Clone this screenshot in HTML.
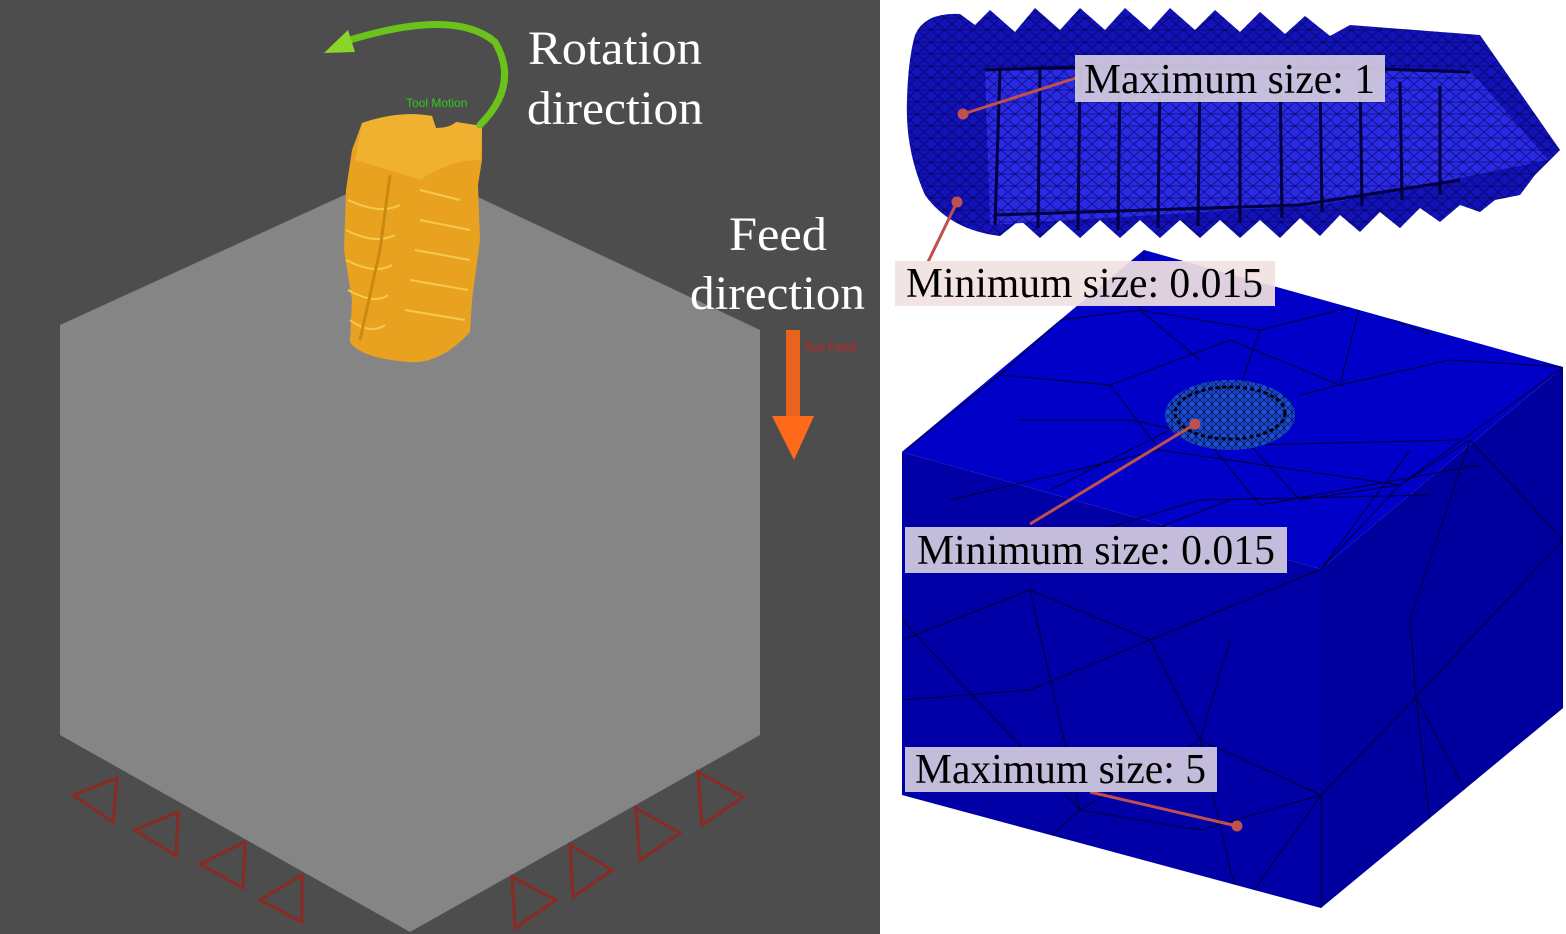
<!DOCTYPE html>
<html><head><meta charset="utf-8"><style>
html,body{margin:0;padding:0;width:1566px;height:934px;overflow:hidden;background:#fff}
svg{display:block}
</style></head><body>
<svg width="1566" height="934" viewBox="0 0 1566 934" xmlns="http://www.w3.org/2000/svg">
<defs>
<pattern id="mesh" width="14" height="12" patternUnits="userSpaceOnUse">
<path d="M0,0 L14,12 M14,0 L0,12 M0,6 L14,6" stroke="#000040" stroke-width="0.8" fill="none"/>
</pattern>
<pattern id="mesh2" width="8" height="8" patternUnits="userSpaceOnUse">
<path d="M0,0 L8,8 M8,0 L0,8 M4,0 L4,8" stroke="#000040" stroke-width="0.6" fill="none"/>
</pattern>
<clipPath id="boxclip">
<polygon points="902,452 1144,250 1563,367 1563,708 1321,908 902,795"/>
</clipPath>
</defs>
<!-- Left panel -->
<rect x="0" y="0" width="880" height="934" fill="#4d4d4d"/>
<polygon points="410,165 760,330 760,735 410,932 60,735 60,325" fill="#858585"/>
<g fill="none" stroke="#8b2a22" stroke-width="3">
<polygon points="73,795 117,778 113,822"/>
<polygon points="135,830 178,812 176,856"/>
<polygon points="200,864 245,842 243,888"/>
<polygon points="260,900 302,875 302,922"/>
<polygon points="512,877 556,900 515,928"/>
<polygon points="570,845 612,870 573,897"/>
<polygon points="636,808 680,833 640,860"/>
<polygon points="698,772 743,797 702,825"/>
</g>
<!-- tool -->
<path d="M362,123 Q400,110 432,116 L436,128 Q450,128 456,122 L482,126 L482,160 L478,185 L480,240 L472,300 L470,332 Q440,365 408,362 Q360,358 350,342 L352,300 L344,250 L346,190 L352,150 Z" fill="#e8a21f"/>
<path d="M362,123 Q400,110 432,116 L436,128 Q450,128 456,122 L482,126 L480,160 Q450,160 420,180 Q390,170 355,160 Z" fill="#f0b030"/>
<g stroke="#f7c850" stroke-width="2" fill="none">
<path d="M348,200 Q380,215 400,205 M346,230 Q375,245 395,235 M346,260 Q375,275 392,265 M348,290 Q375,305 388,295 M350,320 Q370,335 385,325"/>
<path d="M420,190 L460,200 M420,220 L470,230 M415,250 L470,260 M410,280 L468,290 M405,310 L465,320"/>
</g>
<path d="M390,175 L380,250 L360,340" stroke="#c88a10" stroke-width="3" fill="none"/>
<!-- green arrow -->
<path d="M480,125 Q520,85 495,42 Q455,8 350,40" fill="none" stroke="#6bc21a" stroke-width="7" stroke-linecap="round"/>
<polygon points="324,53 348,30 355,52" fill="#8bd42a"/>
<text x="406" y="107" font-family="Liberation Sans,sans-serif" font-size="12" fill="#2ecc1a">Tool Motion</text>
<!-- orange arrow -->
<rect x="786" y="330" width="14" height="100" fill="#e8641c"/>
<polygon points="772,416 814,416 794,460" fill="#ff6a1a"/>
<text x="803" y="351" font-family="Liberation Sans,sans-serif" font-size="12" fill="#d02020">Tool Feed</text>
<g font-family="Liberation Serif,serif" font-size="48" fill="#fff">
<text x="528" y="64" textLength="174" lengthAdjust="spacingAndGlyphs">Rotation</text>
<text x="527" y="124" textLength="176" lengthAdjust="spacingAndGlyphs">direction</text>
<text x="729" y="250" textLength="98" lengthAdjust="spacingAndGlyphs">Feed</text>
<text x="690" y="309" textLength="175" lengthAdjust="spacingAndGlyphs">direction</text>
</g>
<!-- Right panel: box -->
<polygon points="902,452 1144,250 1563,367 1321,569" fill="#0000c8"/>
<polygon points="902,452 1321,569 1321,908 902,795" fill="#0000a6"/>
<polygon points="1321,569 1563,367 1563,708 1321,908" fill="#00009e"/>
<g stroke="#000030" stroke-width="1" fill="none" clip-path="url(#boxclip)">
<path d="M902,452 L1000,375 L1110,385 L1230,340 L1340,385 L1450,360 L1563,367 M1144,250 L1140,310 L1200,360 M1000,375 L1060,320 L1140,310 L1260,330 L1360,305 L1430,335 M1020,420 L1130,420 L1250,445 L1460,440 M950,500 L1160,450 L1400,485 L1563,367 M1050,490 L1190,420 L1260,505 L1480,465 M1000,560 L1200,500 L1430,495 M1100,550 L1230,500 M1321,569 L1400,485 L1470,440 M1260,330 L1230,415 M1360,305 L1340,385 L1300,395 M1410,450 L1321,569 M1110,385 L1160,450 M1250,445 L1300,500 L1400,485"/>
<path d="M902,640 L1030,590 L1150,640 L1321,569 M1030,590 L1080,810 L1200,740 L1321,795 L1416,697 L1563,540 M902,620 L1080,810 L1030,855 L1000,905 M1150,640 L1200,740 L1240,910 M1416,697 L1430,825 L1563,708 M1321,795 L1321,908 M1416,697 L1410,620 L1470,440 M1200,740 L1230,640 M902,700 L1030,690 L1150,640 M1080,810 L1200,830 L1321,795 M1470,440 L1563,540 M1416,697 L1470,800 M1240,910 L1321,795"/>
</g>
<ellipse cx="1230" cy="415" rx="65" ry="35" fill="#1b4fd0"/>
<ellipse cx="1230" cy="415" rx="65" ry="35" fill="url(#mesh2)"/>
<ellipse cx="1230" cy="413" rx="55" ry="26" fill="none" stroke="#000" stroke-width="3" stroke-dasharray="4 3"/>
<!-- screw -->
<path d="M915,35 Q925,12 960,14 L975,25 L990,10 L1015,32 L1035,8 L1060,30 L1080,8 L1105,30 L1125,8 L1150,30 L1170,8 L1195,30 L1215,10 L1240,32 L1260,12 L1285,34 L1305,16 L1330,36 L1350,25 L1480,35 L1560,150 L1535,175 L1520,195 L1495,200 L1480,212 L1460,205 L1440,222 L1420,208 L1400,228 L1380,212 L1360,232 L1340,215 L1320,236 L1300,218 L1280,238 L1260,220 L1240,238 L1220,220 L1200,238 L1180,220 L1160,238 L1140,220 L1120,238 L1100,220 L1080,238 L1060,220 L1040,238 L1020,220 L1000,236 Q950,230 925,195 Q905,150 907,100 Q908,60 915,35 Z" fill="#1212b8"/>
<path d="M985,70 L1470,70 L1548,160 L1450,180 L1320,205 L990,225 Z" fill="#2a2ae6"/>
<path d="M915,35 Q925,12 960,14 L975,25 L990,10 L1015,32 L1035,8 L1060,30 L1080,8 L1105,30 L1125,8 L1150,30 L1170,8 L1195,30 L1215,10 L1240,32 L1260,12 L1285,34 L1305,16 L1330,36 L1350,25 L1480,35 L1560,150 L1535,175 L1520,195 L1495,200 L1480,212 L1460,205 L1440,222 L1420,208 L1400,228 L1380,212 L1360,232 L1340,215 L1320,236 L1300,218 L1280,238 L1260,220 L1240,238 L1220,220 L1200,238 L1180,220 L1160,238 L1140,220 L1120,238 L1100,220 L1080,238 L1060,220 L1040,238 L1020,220 L1000,236 Q950,230 925,195 Q905,150 907,100 Q908,60 915,35 Z" fill="url(#mesh)" opacity="0.7"/>
<g stroke="#000040" stroke-width="3" fill="none">
<path d="M1000,70 L995,225 M1040,70 L1038,228 M1080,70 L1078,230 M1120,70 L1118,230 M1160,70 L1158,228 M1200,70 L1198,226 M1240,70 L1240,222 M1280,72 L1282,218 M1320,74 L1322,212 M1360,78 L1362,206 M1400,82 L1402,200 M1440,86 L1440,195"/>
<path d="M985,70 Q1200,62 1470,72 M995,215 L1300,205 L1460,180"/>
</g>
<!-- labels -->
<g stroke="#c0504d" stroke-width="3" fill="#c0504d">
<line x1="963" y1="114" x2="1076" y2="78"/><circle cx="963" cy="114" r="4"/>
<line x1="957" y1="202" x2="928" y2="262"/><circle cx="957" cy="202" r="4"/>
<line x1="1195" y1="424" x2="1030" y2="524"/><circle cx="1195" cy="424" r="4"/>
<line x1="1090" y1="792" x2="1237" y2="826"/><circle cx="1237" cy="826" r="4"/>
</g>
<g font-family="Liberation Serif,serif" font-size="42" fill="#000">
<rect x="1075" y="55" width="310" height="47" fill="#d4cce0" opacity="0.92"/>
<text x="1084" y="93" textLength="291" lengthAdjust="spacingAndGlyphs">Maximum size: 1</text>
<rect x="895" y="261" width="380" height="45" fill="#f2e2e2" opacity="0.92"/>
<text x="906" y="297" textLength="357" lengthAdjust="spacingAndGlyphs">Minimum size: 0.015</text>
<rect x="905" y="527" width="382" height="46" fill="#cfc6dd" opacity="0.95"/>
<text x="917" y="564" textLength="358" lengthAdjust="spacingAndGlyphs">Minimum size: 0.015</text>
<rect x="905" y="747" width="312" height="45" fill="#cfc6dd" opacity="0.95"/>
<text x="915" y="783" textLength="291" lengthAdjust="spacingAndGlyphs">Maximum size: 5</text>
</g>
</svg>
</body></html>
